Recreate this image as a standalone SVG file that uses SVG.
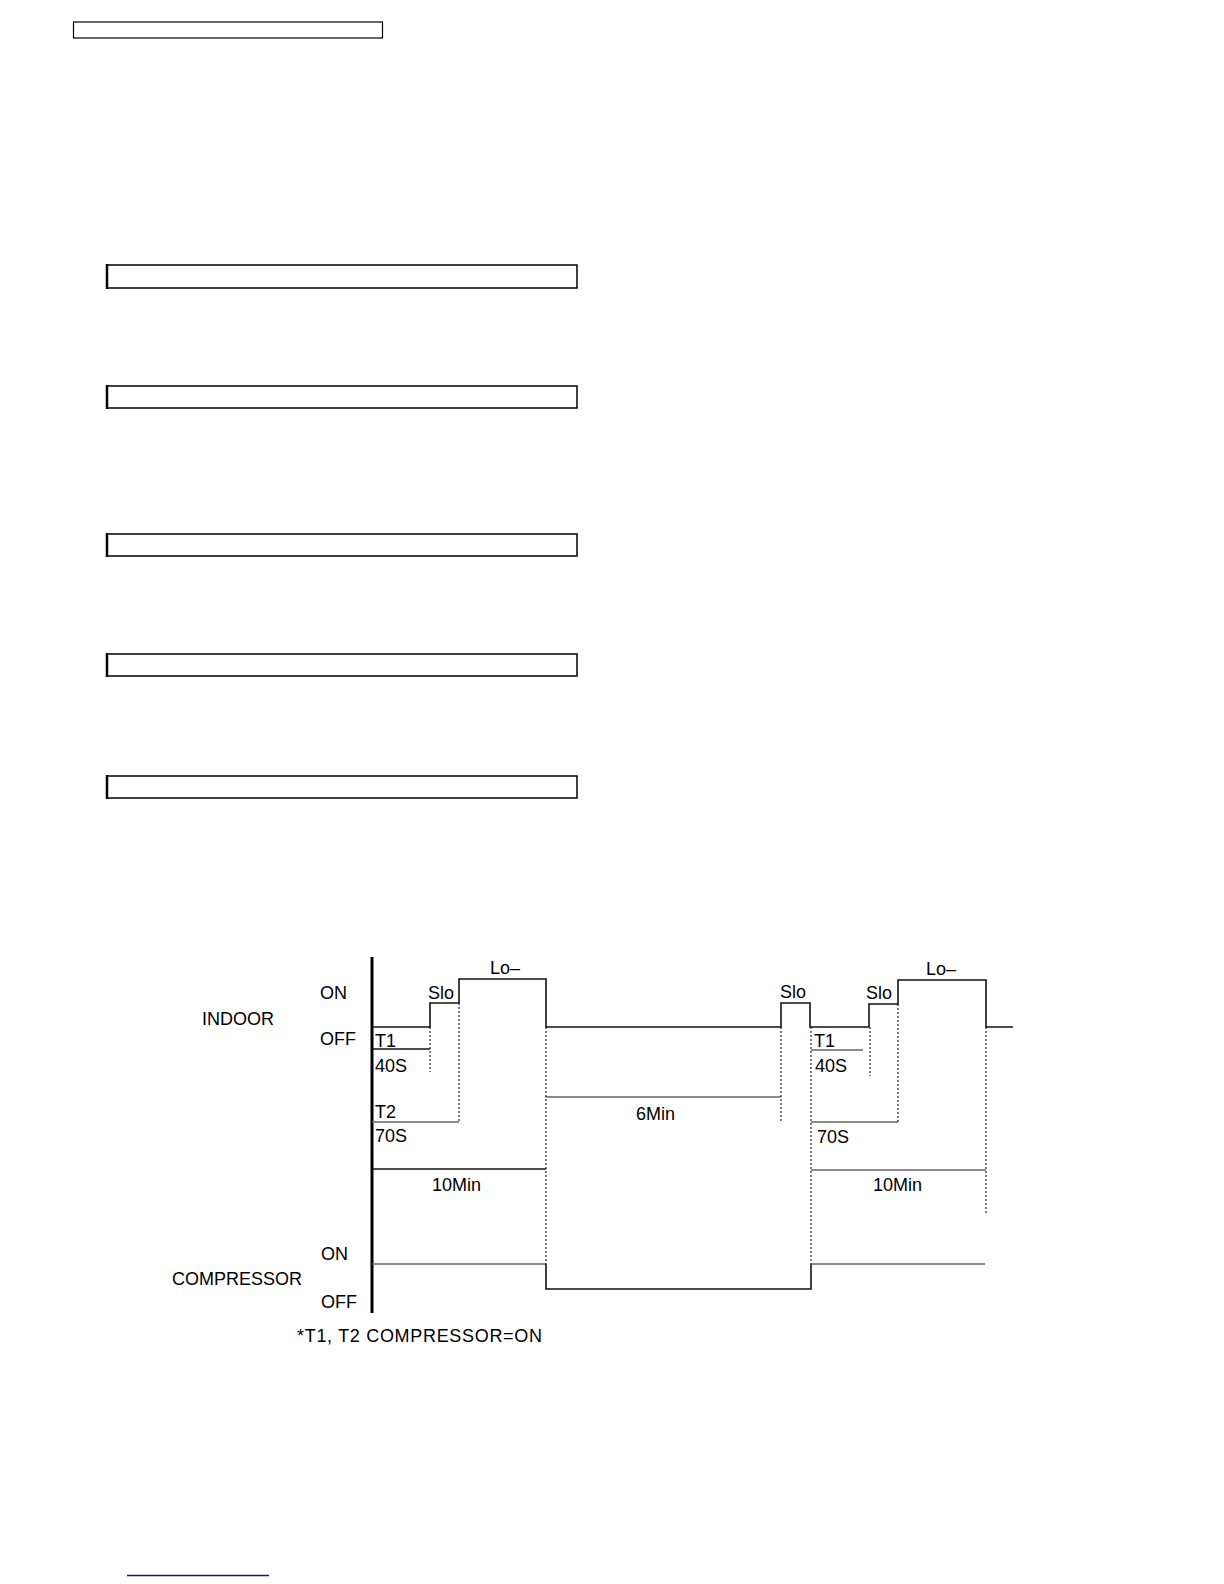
<svg xmlns="http://www.w3.org/2000/svg" width="1224" height="1584" viewBox="0 0 1224 1584">
<style>
text{font-family:"Liberation Sans",Arial,sans-serif;font-size:18px;fill:#000}
.box{fill:none;stroke:#000;stroke-width:1.5}
.sig{fill:none;stroke:#111;stroke-width:1.6}
.gry{fill:none;stroke:#666;stroke-width:1.6}
.dash{fill:none;stroke:#111;stroke-width:1.1;stroke-dasharray:2 2}
</style>
<rect width="1224" height="1584" fill="#fff"/>
<g id="header-box"><rect x="73.5" y="22" width="309" height="16" fill="none" stroke="#000" stroke-width="1.2"/></g>
<g id="boxes">
<g id="box1"><rect class="box" x="107" y="265" width="470" height="23"/><line x1="107" y1="264" x2="107" y2="289" stroke="#000" stroke-width="2.5"/></g>
<g id="box2"><rect class="box" x="107" y="386" width="470" height="22"/><line x1="107" y1="385" x2="107" y2="409" stroke="#000" stroke-width="2.5"/></g>
<g id="box3"><rect class="box" x="107" y="534" width="470" height="22"/><line x1="107" y1="533" x2="107" y2="557" stroke="#000" stroke-width="2.5"/></g>
<g id="box4"><rect class="box" x="107" y="654" width="470" height="22"/><line x1="107" y1="653" x2="107" y2="677" stroke="#000" stroke-width="2.5"/></g>
<g id="box5"><rect class="box" x="107" y="776" width="470" height="22"/><line x1="107" y1="775" x2="107" y2="799" stroke="#000" stroke-width="2.5"/></g>
</g>
<g id="timing-chart">
<line id="axis" x1="372" y1="957" x2="372" y2="1313" stroke="#000" stroke-width="3"/>
<g id="connectors">
<path id="indoor-signal" class="sig" d="M372,1027 H430 V1003 H459 V979 H546 V1027 H781 V1003 H810 V1027 H869 V1004 H898 V980 H986 V1027 H1013"/>
<path class="gry" d="M372,1264 H546"/>
<path class="sig" d="M546,1264 V1289 H811 V1264"/>
<path class="gry" d="M811,1264 H985"/>
<line class="sig" x1="372" y1="1049" x2="430" y2="1049"/>
<line class="gry" x1="372" y1="1122" x2="459" y2="1122"/>
<line class="sig" x1="372" y1="1169" x2="546" y2="1169"/>
<line class="gry" x1="546" y1="1097" x2="781" y2="1097"/>
<line class="gry" x1="811" y1="1050" x2="863" y2="1050" stroke-width="1.2"/>
<line class="gry" x1="811" y1="1122" x2="898" y2="1122"/>
<line class="gry" x1="811" y1="1170" x2="986" y2="1170"/>
<line class="dash" x1="430" y1="1027" x2="430" y2="1072"/>
<line class="dash" x1="459" y1="1003" x2="459" y2="1122"/>
<line class="dash" x1="546" y1="1027" x2="546" y2="1264"/>
<line class="dash" x1="781" y1="1027" x2="781" y2="1122"/>
<line class="dash" x1="811" y1="1027" x2="811" y2="1264"/>
<line class="dash" x1="870" y1="1027" x2="870" y2="1076"/>
<line class="dash" x1="898" y1="1004" x2="898" y2="1122"/>
<line class="dash" x1="986" y1="1027" x2="986" y2="1213"/>
</g>
<g id="labels">
<text x="202" y="1025">INDOOR</text>
<text x="320" y="999">ON</text>
<text x="320" y="1045">OFF</text>
<text x="375" y="1047">T1</text>
<text x="375" y="1072">40S</text>
<text x="375" y="1118">T2</text>
<text x="375" y="1142">70S</text>
<text x="428" y="999">Slo</text>
<text x="490" y="974">Lo–</text>
<text x="432" y="1191">10Min</text>
<text x="636" y="1120">6Min</text>
<text x="780" y="998">Slo</text>
<text x="866" y="999">Slo</text>
<text x="926" y="975">Lo–</text>
<text x="814" y="1047">T1</text>
<text x="815" y="1072">40S</text>
<text x="817" y="1143">70S</text>
<text x="873" y="1191">10Min</text>
<text x="321" y="1260">ON</text>
<text x="172" y="1285">COMPRESSOR</text>
<text x="321" y="1308">OFF</text>
<text x="297" y="1342" textLength="245">*T1, T2 COMPRESSOR=ON</text>
</g>
</g>
<g id="footer-link"><line x1="127" y1="1575.5" x2="269" y2="1575.5" stroke="#14148a" stroke-width="1.5"/></g>
</svg>
